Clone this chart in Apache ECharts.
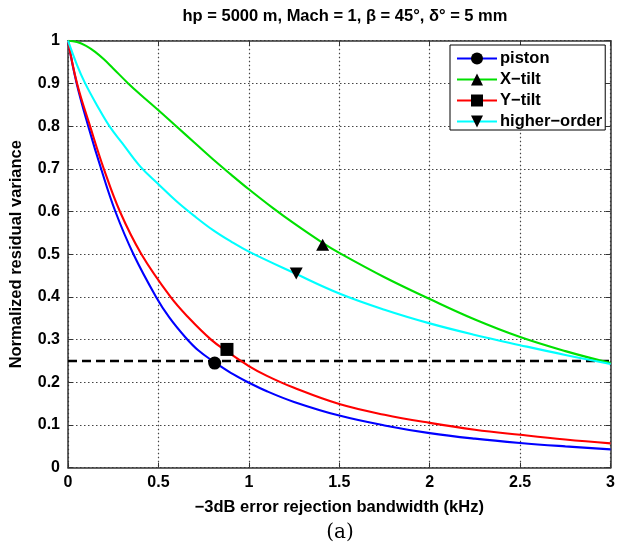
<!DOCTYPE html>
<html>
<head>
<meta charset="utf-8">
<script src="https://cdn.jsdelivr.net/npm/echarts@6/dist/echarts.min.js"></script>
<style>
html,body{margin:0;padding:0;background:#fff;}
#chart{width:618px;height:547px;}
</style>
</head>
<body>
<div id="chart"></div>
<script>
// ---- data ----
const titleText = 'hp = 5000 m, Mach = 1, β = 45°, δ° = 5 mm';
const xAxisName = '−3dB error rejection bandwidth (kHz)';
const yAxisName = 'Normalized residual variance';
const captionText = '(a)';
const seriesNames = ['piston', 'X−tilt', 'Y−tilt', 'higher−order'];

const pistonX = [0, 0.048, 0.112, 0.183, 0.262, 0.362, 0.487, 0.56, 0.65, 0.72, 0.81, 0.9, 0.987, 1.1, 1.25, 1.5, 1.75, 2.0, 2.25, 2.5, 2.75, 3.0];
const pistonY = [1, 0.9, 0.8, 0.7, 0.6, 0.5, 0.4, 0.352, 0.305, 0.275, 0.247, 0.222, 0.202, 0.179, 0.154, 0.122, 0.099, 0.081, 0.068, 0.058, 0.05, 0.043];

const xtiltX = [0, 0.05, 0.1, 0.15, 0.2, 0.25, 0.333, 0.4, 0.5, 0.6, 0.7, 0.8, 0.9, 1.0, 1.13, 1.25, 1.41, 1.5, 1.75, 2.0, 2.25, 2.5, 2.75, 3.0];
const xtiltY = [1, 0.997, 0.988, 0.974, 0.956, 0.935, 0.9, 0.874, 0.837, 0.799, 0.761, 0.723, 0.687, 0.652, 0.609, 0.572, 0.526, 0.503, 0.446, 0.395, 0.347, 0.306, 0.273, 0.245];

const ytiltX = [0, 0.05, 0.122, 0.198, 0.287, 0.406, 0.567, 0.67, 0.791, 0.88, 1.0, 1.1, 1.25, 1.5, 1.75, 2.0, 2.25, 2.5, 2.75, 3.0];
const ytiltY = [1, 0.9, 0.8, 0.7, 0.6, 0.5, 0.4, 0.35, 0.3, 0.272, 0.238, 0.215, 0.187, 0.149, 0.124, 0.105, 0.089, 0.077, 0.066, 0.057];

const higherX = [0, 0.05, 0.095, 0.16, 0.229, 0.3, 0.4, 0.5, 0.6, 0.7, 0.8, 0.9, 1.0, 1.25, 1.5, 1.75, 2.0, 2.25, 2.5, 2.75, 3.0];
const higherY = [1, 0.943, 0.9, 0.849, 0.8, 0.76, 0.705, 0.664, 0.624, 0.589, 0.557, 0.53, 0.506, 0.456, 0.408, 0.37, 0.338, 0.311, 0.287, 0.264, 0.243];

const pistonMarker = [0.811, 0.245];
const xtiltMarker = [1.408, 0.522];
const ytiltMarker = [0.879, 0.277];
const higherMarker = [1.262, 0.455];

const thresholdX = [0, 3];
const thresholdY = [0.25, 0.25];

const xTicks = [0, 0.5, 1, 1.5, 2, 2.5, 3];
const yTicks = [0, 0.1, 0.2, 0.3, 0.4, 0.5, 0.6, 0.7, 0.8, 0.9, 1];

// ---- build chart ----
function pairs(xs, ys) { return xs.map((x, i) => [x, ys[i]]); }

const colors = ['#0000ff', '#00e000', '#ff0000', '#00ffff'];
const symbols = ['circle', 'triangle', 'rect', 'triangle'];
const rotates = [0, 0, 0, 180];
const curves = [pairs(pistonX, pistonY), pairs(xtiltX, xtiltY), pairs(ytiltX, ytiltY), pairs(higherX, higherY)];
const markers = [pistonMarker, xtiltMarker, ytiltMarker, higherMarker];
const markerSizes = [13, [13, 12], 13, [13, 12]];

const FONT = '"Liberation Sans", Arial, sans-serif';

const series = seriesNames.map((name, i) => ({
  name: name,
  type: 'line',
  data: curves[i],
  smooth: 0.4,
  showSymbol: false,
  symbol: symbols[i],
  symbolRotate: rotates[i],
  symbolSize: 12,
  itemStyle: { color: '#000' },
  lineStyle: { color: colors[i], width: 2.1 },
  silent: true,
  z: 3,
  markPoint: {
    symbol: symbols[i],
    symbolRotate: rotates[i],
    symbolSize: markerSizes[i],
    itemStyle: { color: '#000' },
    label: { show: false },
    silent: true,
    data: [{ coord: markers[i] }]
  }
}));

series.push({
  name: 'threshold',
  type: 'line',
  data: pairs(thresholdX, thresholdY),
  showSymbol: false,
  symbol: 'none',
  lineStyle: { color: '#000', width: 2.5, type: [9, 5] },
  silent: true,
  z: 2
});

const axisLineStyle = { color: '#333', width: 1.5 };
const splitStyle = { color: '#444', width: 1.2, type: [1.5, 2.5] };
const labelStyle = { fontFamily: FONT, fontWeight: 'bold', fontSize: 16, color: '#000' };

const option = {
  backgroundColor: '#fff',
  animation: false,
  title: {
    text: titleText,
    left: 340, top: 3,
    textAlign: 'center',
    textStyle: { fontFamily: FONT, fontWeight: 'bold', fontSize: 16.5, color: '#000' }
  },
  grid: { left: 67.7, right: 4.3, top: 40.7, bottom: 79.3, containLabel: false },
  legend: {
    left: 450, top: 45,
    orient: 'vertical',
    data: seriesNames.map((n, i) => ({ name: n, itemStyle: { color: '#000' }, lineStyle: { color: colors[i], width: 2 } })),
    itemWidth: 40, itemHeight: 15, itemGap: 4,
    padding: [5, 3, 0, 6],
    backgroundColor: '#fff',
    borderColor: '#000', borderWidth: 1,
    selectedMode: false,
    textStyle: { fontFamily: FONT, fontWeight: 'bold', fontSize: 16.5, color: '#000', padding: [0, 0, 0, -2] }
  },
  xAxis: [{
    type: 'value', min: 0, max: 3, interval: 0.5,
    name: xAxisName, nameLocation: 'middle', nameGap: 31,
    nameTextStyle: { fontFamily: FONT, fontWeight: 'bold', fontSize: 16.5, color: '#000' },
    axisLine: { show: true, onZero: false, lineStyle: axisLineStyle },
    axisTick: { show: true, inside: true, length: 5, lineStyle: { color: '#333' } },
    axisLabel: Object.assign({ margin: 7, formatter: v => xTicks.includes(v) ? String(v) : '' }, labelStyle),
    splitLine: { show: true, lineStyle: splitStyle }
  }, {
    type: 'value', min: 0, max: 3, interval: 0.5, position: 'top',
    axisLine: { show: true, onZero: false, lineStyle: axisLineStyle },
    axisTick: { show: true, inside: true, length: 5, lineStyle: { color: '#333' } },
    axisLabel: { show: false }, splitLine: { show: false }
  }],
  yAxis: [{
    type: 'value', min: 0, max: 1, interval: 0.1,
    name: yAxisName, nameLocation: 'middle', nameGap: 43,
    nameTextStyle: { fontFamily: FONT, fontWeight: 'bold', fontSize: 16.5, color: '#000' },
    axisLine: { show: true, onZero: false, lineStyle: axisLineStyle },
    axisTick: { show: true, inside: true, length: 5, lineStyle: { color: '#333' } },
    axisLabel: Object.assign({ margin: 8, formatter: v => { const t = yTicks.find(y => Math.abs(y - v) < 1e-9); return t === undefined ? '' : String(t); } }, labelStyle),
    splitLine: { show: true, lineStyle: splitStyle }
  }, {
    type: 'value', min: 0, max: 1, interval: 0.1, position: 'right',
    axisLine: { show: true, onZero: false, lineStyle: axisLineStyle },
    axisTick: { show: true, inside: true, length: 5, lineStyle: { color: '#333' } },
    axisLabel: { show: false }, splitLine: { show: false }
  }],
  graphic: [{
    type: 'text',
    x: 340, y: 533,
    style: { text: captionText, font: '20px "DejaVu Serif", "Liberation Serif", serif', fill: '#000', textAlign: 'center', textVerticalAlign: 'middle' }
  }],
  series: series
};

const chart = echarts.init(document.getElementById('chart'), null, { renderer: 'canvas' });
chart.setOption(option);
</script>
</body>
</html>
